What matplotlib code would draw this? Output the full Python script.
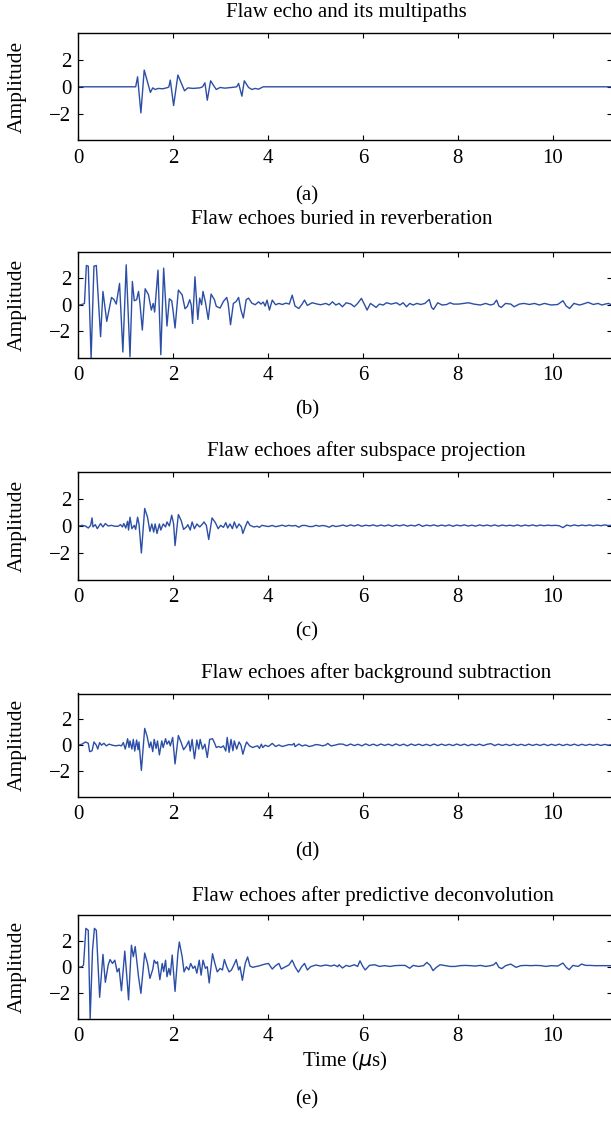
import matplotlib
matplotlib.use("Agg")
import matplotlib.pyplot as plt

plt.rcParams["font.family"] = ["Liberation Serif", "DejaVu Serif"]
plt.rcParams["font.size"] = 15

# ---- data (time in us, amplitude) ----
t_a = [0.0, 1.18, 1.21, 1.25, 1.32, 1.39, 1.52, 1.57, 1.62, 1.69, 1.78, 1.89, 1.91,
       1.94, 2.01, 2.10, 2.19, 2.24, 2.31, 2.42, 2.56, 2.62, 2.67, 2.72, 2.79, 2.87,
       2.91, 2.99, 3.09, 3.23, 3.34, 3.38, 3.45, 3.50, 3.59, 3.66, 3.73, 3.80, 3.87,
       3.90, 11.3]
a_a = [0.0, 0.0, 0.0, 0.75, -1.95, 1.25, -0.42, -0.08, -0.2, -0.12, -0.15, -0.05, 0.0,
       0.5, -1.4, 0.88, 0.12, -0.3, -0.08, -0.12, -0.08, 0.0, 0.3, -1.0, 0.45, 0.0,
       -0.2, -0.05, -0.1, -0.05, 0.0, 0.25, -0.7, 0.45, -0.05, -0.2, -0.12, -0.18, -0.05,
       0.0, 0.0]

t_b = [0.00, 0.10, 0.13, 0.17, 0.21, 0.27, 0.33, 0.38, 0.47, 0.52, 0.60, 0.70, 0.75,
       0.80, 0.87, 0.94, 1.01, 1.09, 1.14, 1.18, 1.23, 1.27, 1.30, 1.35, 1.41, 1.48,
       1.54, 1.58, 1.61, 1.68, 1.74, 1.80, 1.87, 1.92, 1.97, 2.00, 2.04, 2.11, 2.19,
       2.25, 2.30, 2.35, 2.38, 2.41, 2.46, 2.52, 2.56, 2.60, 2.63, 2.68, 2.74, 2.80,
       2.87, 2.91, 2.99, 3.06, 3.13, 3.16, 3.21, 3.27, 3.33, 3.38, 3.43, 3.48, 3.54,
       3.59, 3.66, 3.73, 3.80, 3.85, 3.90, 3.94, 3.98, 4.03, 4.09, 4.16, 4.23, 4.30,
       4.38, 4.45, 4.51, 4.57, 4.65, 4.72, 4.77, 4.83, 4.93, 5.04, 5.11, 5.22, 5.29,
       5.36, 5.43, 5.50, 5.57, 5.65, 5.75, 5.82, 5.89, 5.97, 6.04, 6.09, 6.16, 6.21,
       6.28, 6.35, 6.43, 6.50, 6.60, 6.71, 6.78, 6.85, 6.92, 6.99, 7.06, 7.14, 7.22,
       7.31, 7.40, 7.45, 7.49, 7.58, 7.67, 7.77, 7.84, 7.91, 8.02, 8.13, 8.23, 8.34,
       8.48, 8.59, 8.69, 8.76, 8.82, 8.87, 8.92, 9.01, 9.12, 9.19, 9.30, 9.40, 9.51,
       9.62, 9.72, 9.83, 9.97, 10.11, 10.22, 10.29, 10.36, 10.45, 10.57, 10.64, 10.75,
       10.86, 10.96, 11.04, 11.11, 11.18, 11.25, 11.32]
a_b = [-0.05, 0.05, 0.1, 2.95, 2.9, -4.0, 2.9, 2.95, -2.4, 1.0, -1.25, 0.55, 0.4,
       0.05, 1.6, -3.55, 3.0, -3.9, 1.75, 0.3, 0.38, 1.0, 0.1, -1.9, 1.2, 0.75,
       -0.4, 0.1, -0.55, 2.6, -3.75, 2.75, -1.6, 0.45, 0.3, -0.5, -1.75, 1.1, 0.75,
       -0.3, -0.12, 0.38, 0.0, -1.4, 2.1, -1.1, 0.5, 0.0, 1.0, 0.2, -1.1, 0.8,
       0.38, -0.12, -0.25, 0.25, 0.55, 0.1, -1.5, 0.1, 0.25, 0.55, -0.4, -1.0, 0.38,
       0.5, 0.12, 0.0, 0.22, 0.05, 0.2, -0.1, 0.35, -0.4, 0.35, 0.0, 0.1, 0.02,
       0.12, 0.05, 0.72, -0.1, -0.28, 0.05, 0.35, -0.05, 0.15, 0.05, 0.0, 0.1, -0.02,
       0.22, -0.02, 0.1, -0.15, 0.15, 0.05, -0.15, 0.1, 0.48, -0.02, -0.4, 0.1, -0.02,
       -0.2, 0.05, -0.02, 0.15, 0.05, 0.15, -0.02, 0.15, -0.15, 0.1, -0.02, 0.1, 0.02,
       0.1, 0.4, -0.2, -0.35, 0.15, -0.02, 0.02, 0.15, 0.05, 0.05, 0.1, 0.15, 0.05,
       -0.02, 0.1, -0.02, 0.05, 0.35, -0.1, -0.2, 0.1, 0.05, -0.15, 0.05, 0.1, 0.02,
       0.1, -0.02, 0.1, -0.02, 0.02, 0.3, -0.1, -0.28, 0.1, -0.02, 0.05, 0.18,
       0.02, 0.1, -0.02, 0.05, 0.1, -0.02, 0.05]

t_c = [0.00, 0.08, 0.15, 0.21, 0.26, 0.29, 0.31, 0.36, 0.40, 0.47, 0.52, 0.57, 0.63,
       0.70, 0.77, 0.84, 0.89, 0.93, 0.96, 1.00, 1.04, 1.06, 1.09, 1.13, 1.18, 1.21,
       1.25, 1.28, 1.33, 1.40, 1.46, 1.51, 1.55, 1.59, 1.62, 1.66, 1.71, 1.74, 1.79,
       1.84, 1.87, 1.92, 1.97, 2.01, 2.04, 2.11, 2.17, 2.22, 2.28, 2.31, 2.36, 2.40,
       2.45, 2.50, 2.56, 2.62, 2.65, 2.70, 2.75, 2.82, 2.89, 2.95, 3.00, 3.06, 3.11,
       3.15, 3.20, 3.25, 3.29, 3.34, 3.39, 3.44, 3.47, 3.52, 3.57, 3.62, 3.70, 3.77,
       3.82, 3.87, 3.94, 4.01, 4.09, 4.16, 4.23, 4.30, 4.37, 4.44, 4.51, 4.58, 4.65,
       4.72, 4.79, 4.87, 4.94, 5.01, 5.08, 5.15, 5.22, 5.29, 5.36, 5.43, 5.50,
       5.58, 5.66, 5.74, 5.82, 5.90, 5.98, 6.06, 6.14, 6.22, 6.30, 6.38, 6.46, 6.54,
       6.62, 6.70, 6.78, 6.86, 6.94, 7.02, 7.10, 7.18, 7.26, 7.34, 7.42, 7.50, 7.58,
       7.66, 7.74, 7.82, 7.90, 7.98, 8.06, 8.14, 8.22, 8.30, 8.38, 8.46, 8.54, 8.62,
       8.70, 8.78, 8.86, 8.94, 9.02, 9.10, 9.18, 9.26, 9.34, 9.42, 9.50, 9.58, 9.66,
       9.74, 9.82, 9.90, 9.98, 10.06, 10.14, 10.22, 10.30, 10.38, 10.46, 10.54, 10.62,
       10.70, 10.78, 10.86, 10.94, 11.02, 11.10, 11.18, 11.26, 11.32]
a_c = [-0.02, 0.05, 0.0, -0.15, 0.05, 0.6, -0.07, 0.1, -0.2, 0.18, -0.07, 0.18, 0.0,
       0.05, -0.02, -0.02, 0.1, -0.07, 0.18, -0.15, 0.35, -0.3, 0.65, -0.2, 0.05, -0.25,
       0.65, 0.15, -2.0, 1.3, 0.65, -0.4, 0.15, -0.45, 0.15, -0.55, 0.15, -0.3, 0.15,
       -0.07, 0.3, 0.0, 0.8, 0.15, -1.45, 0.85, 0.4, -0.25, -0.07, 0.1, -0.3, 0.3,
       -0.2, 0.15, -0.07, 0.15, 0.3, 0.05, -1.0, 0.6, 0.25, -0.2, 0.05, -0.1, 0.25,
       -0.15, 0.15, -0.2, 0.3, -0.15, 0.15, -0.07, -0.55, -0.07, 0.35, 0.05, -0.07, -0.02,
       -0.1, 0.05, 0.0, -0.04, 0.04, -0.05, 0.0, 0.06, -0.02, 0.05, 0.0, 0.04, -0.09,
       0.04, 0.04, -0.04, -0.04, 0.05, -0.02, 0.04, 0.0, -0.09, 0.04, -0.04, 0.0,
       0.07, -0.02, 0.08, 0.0, 0.09, -0.02, 0.06, 0.01, 0.08, -0.01, 0.07, 0.0, 0.08,
       -0.02, 0.07, 0.01, 0.09, -0.01, 0.06, 0.0, 0.12, -0.03, 0.07, 0.01, 0.08, -0.01,
       0.07, 0.0, 0.08, -0.02, 0.07, 0.01, 0.08, 0.0, 0.06, -0.01, 0.08, 0.01, 0.07,
       0.0, 0.08, -0.01, 0.07, 0.01, 0.06, 0.0, 0.08, -0.01, 0.07, 0.01, 0.08, 0.0,
       0.07, 0.02, 0.06, 0.03, 0.05, 0.02, -0.12, 0.07, 0.0, 0.08, 0.01, 0.07,
       0.02, 0.08, 0.01, 0.07, 0.02, 0.08, 0.03, 0.06, 0.05]

t_d = [0.00, 0.08, 0.15, 0.21, 0.24, 0.29, 0.33, 0.38, 0.41, 0.45, 0.49, 0.54, 0.59,
       0.65, 0.72, 0.79, 0.86, 0.91, 0.95, 0.99, 1.04, 1.07, 1.09, 1.13, 1.16, 1.19,
       1.23, 1.26, 1.28, 1.33, 1.40, 1.45, 1.50, 1.53, 1.57, 1.60, 1.64, 1.67, 1.71,
       1.76, 1.79, 1.84, 1.87, 1.91, 1.94, 1.99, 2.04, 2.11, 2.17, 2.22, 2.28, 2.33,
       2.36, 2.40, 2.45, 2.50, 2.54, 2.57, 2.62, 2.67, 2.72, 2.77, 2.83, 2.87, 2.91,
       2.96, 3.01, 3.06, 3.11, 3.14, 3.18, 3.22, 3.26, 3.29, 3.34, 3.39, 3.43, 3.47,
       3.52, 3.55, 3.61, 3.68, 3.73, 3.78, 3.82, 3.86, 3.89, 3.94, 4.01, 4.09, 4.16,
       4.23, 4.30, 4.37, 4.44, 4.51, 4.55, 4.57, 4.65, 4.72, 4.79, 4.87, 4.94, 5.01,
       5.08, 5.15, 5.22, 5.26, 5.33, 5.43, 5.50,
       5.58, 5.66, 5.74, 5.82, 5.90, 5.98, 6.06, 6.14, 6.22, 6.30, 6.38, 6.46, 6.54,
       6.62, 6.70, 6.78, 6.86, 6.94, 7.02, 7.10, 7.18, 7.26, 7.34, 7.42, 7.50, 7.58,
       7.66, 7.74, 7.82, 7.90, 7.98, 8.06, 8.14, 8.22, 8.30, 8.38, 8.46, 8.54, 8.62,
       8.70, 8.78, 8.86, 8.94, 9.02, 9.10, 9.18, 9.26, 9.34, 9.42, 9.50, 9.58, 9.66,
       9.74, 9.82, 9.90, 9.98, 10.06, 10.14, 10.22, 10.30, 10.38, 10.46, 10.54, 10.62,
       10.70, 10.78, 10.86, 10.94, 11.02, 11.10, 11.18, 11.26, 11.32]
a_d = [0.0, 0.08, 0.25, 0.15, -0.5, -0.43, 0.25, 0.0, -0.3, 0.2, 0.0, 0.15, -0.05,
       0.08, 0.0, -0.05, 0.0, -0.05, 0.2, -0.3, 0.5, -0.18, 0.33, -0.3, 0.45, -0.45,
       0.4, -0.35, 0.25, -1.95, 1.3, 0.7, -0.18, 0.25, -0.5, 0.45, -0.25, 0.33, -0.75,
       0.33, -0.18, 0.5, 0.08, 0.33, -0.05, 0.6, -1.45, 0.75, 0.2, -0.35, -0.05, 0.33,
       -0.45, 0.45, -1.05, 0.4, -0.3, 0.45, -0.3, 0.08, -0.95, 0.45, 0.5, 0.2, -0.18,
       -0.1, -0.18, -0.05, -0.45, 0.6, -0.55, 0.45, -0.43, 0.33, -0.3, 0.25, 0.0, -0.7,
       -0.05, 0.25, -0.05, -0.18, -0.1, -0.05, -0.25, 0.08, -0.18, 0.0, -0.1, 0.14, -0.1,
       0.02, -0.1, -0.03, 0.05, 0.02, 0.14, -0.11, 0.09, -0.06, 0.02, -0.1, -0.04, 0.05,
       0.02, -0.05, 0.02, 0.14, -0.06, 0.02, 0.09,
       0.08, -0.04, 0.09, -0.03, 0.07, -0.05, 0.1, -0.03, 0.08, -0.04, 0.09, -0.02, 0.08,
       -0.04, 0.1, -0.03, 0.08, -0.05, 0.09, -0.02, 0.08, -0.03, 0.07, -0.04, 0.09, -0.03,
       0.08, -0.02, 0.07, -0.03, 0.09, -0.02, 0.08, -0.04, 0.07, -0.02, 0.08, -0.03, 0.07,
       0.12, -0.03, 0.08, -0.02, 0.07, -0.03, 0.08, -0.02, 0.07, -0.03, 0.08, -0.02, 0.07,
       -0.02, 0.08, -0.03, 0.07, -0.02, 0.08, -0.03, 0.07, -0.02, 0.08, -0.03, 0.07,
       -0.02, 0.07, -0.01, 0.07, -0.02, 0.06, 0.0, 0.06, 0.04]

t_e = [0.00, 0.08, 0.11, 0.16, 0.21, 0.25, 0.30, 0.34, 0.38, 0.45, 0.52, 0.57, 0.63,
       0.67, 0.72, 0.77, 0.82, 0.86, 0.91, 0.98, 1.01, 1.06, 1.12, 1.16, 1.20, 1.27,
       1.32, 1.40, 1.46, 1.51, 1.57, 1.60, 1.64, 1.67, 1.72, 1.77, 1.80, 1.84, 1.87,
       1.91, 1.94, 1.98, 2.04, 2.10, 2.13, 2.19, 2.23, 2.28, 2.33, 2.37, 2.42, 2.46,
       2.50, 2.55, 2.59, 2.63, 2.68, 2.72, 2.76, 2.83, 2.88, 2.93, 2.99, 3.04, 3.08,
       3.13, 3.18, 3.23, 3.28, 3.33, 3.38, 3.41, 3.46, 3.52, 3.57, 3.62, 3.68, 3.73,
       3.80, 3.87, 3.94, 4.01, 4.09, 4.16, 4.23, 4.28, 4.37, 4.44, 4.51, 4.57, 4.64,
       4.71, 4.77, 4.83, 4.90, 5.01, 5.11, 5.22, 5.33, 5.40, 5.47, 5.50, 5.57, 5.65,
       5.72, 5.82, 5.89, 5.94, 6.00, 6.05, 6.14, 6.25, 6.35, 6.46, 6.57, 6.67, 6.78,
       6.89, 6.99, 7.06, 7.17, 7.28, 7.35, 7.42, 7.48, 7.55, 7.63, 7.74, 7.84, 7.95,
       8.05, 8.16, 8.27, 8.37, 8.48, 8.59, 8.69, 8.76, 8.81, 8.87, 8.93, 9.01, 9.12,
       9.23, 9.33, 9.44, 9.54, 9.65, 9.76, 9.86, 9.97, 10.11, 10.22, 10.29, 10.35,
       10.43, 10.54, 10.61, 10.70, 10.79, 10.89, 11.00, 11.11, 11.21, 11.32]
a_e = [-0.05, 0.0, 0.13, 2.95, 2.8, -4.0, 1.28, 2.95, 2.8, -2.35, 0.95, -1.2, 0.13,
       0.55, 0.25, 0.5, -0.4, -0.13, -1.85, 1.2, -0.13, -2.55, 1.65, 0.77, 1.55, -0.77,
       -2.05, 1.05, 0.25, -0.9, -0.2, 0.5, 0.25, 0.38, -1.0, 0.25, -0.38, 0.5, -0.77,
       -0.13, -0.64, 0.9, -1.9, 1.02, 1.9, 0.77, -0.4, 0.0, -0.25, 0.25, -0.13, 0.05,
       -0.5, 0.5, -0.65, 0.5, -0.13, 0.0, -1.25, 1.0, 0.25, -0.4, -0.13, -0.25, 0.55,
       0.0, -0.4, -0.25, 0.13, 0.55, -0.25, 0.0, -1.05, 0.25, 0.75, 0.05, -0.05, 0.0,
       0.05, 0.13, 0.2, 0.25, -0.18, 0.08, 0.25, -0.18, 0.0, 0.13, 0.5, 0.0, -0.42,
       0.0, 0.25, -0.25, 0.0, 0.13, 0.05, 0.13, 0.05, 0.13, 0.0, 0.15, -0.1, 0.1,
       0.02, 0.15, 0.02, 0.45, 0.02, -0.25, 0.1, 0.15, 0.02, 0.08, 0.02, 0.08, 0.1,
       0.1, -0.12, 0.1, 0.02, 0.08, 0.33, 0.1, -0.3, -0.05, 0.15, 0.08, 0.02, 0.02,
       0.08, 0.1, 0.08, 0.05, 0.1, 0.02, 0.08, 0.15, 0.33, -0.05, -0.15, 0.08, 0.2,
       -0.05, 0.08, 0.1, 0.08, 0.1, 0.08, 0.02, 0.08, 0.05, 0.28, -0.05, -0.23,
       0.1, 0.02, 0.2, 0.1, 0.1, 0.08, 0.08, 0.08, 0.08, 0.05]

titles = ["Flaw echo and its multipaths",
          "Flaw echoes buried in reverberation",
          "Flaw echoes after subspace projection",
          "Flaw echoes after background subtraction",
          "Flaw echoes after predictive deconvolution"]
panel_tags = ["(a)", "(b)", "(c)", "(d)", "(e)"]
series = [(t_a, a_a), (t_b, a_b), (t_c, a_c), (t_d, a_d), (t_e, a_e)]

# layout in pixels (top of axes, height, title centre x/y, tag y)
W, H = 611, 1122
ax_tops = [33.3, 251.5, 472.0, 693.5, 914.7]
ax_hgts = [107.0, 106.5, 108.0, 103.4, 104.0]
title_xy = [(346, 12), (342, 219), (366, 451), (376, 673), (373, 896)]
tag_y = [196, 410, 632, 852, 1100]
left_px, width_px = 78.3, 533.5

line_col = "#2b4ea6"

fig = plt.figure(figsize=(W / 100, H / 100), dpi=100)

for i, (t, a) in enumerate(series):
    ax = fig.add_axes([left_px / W, 1 - (ax_tops[i] + ax_hgts[i]) / H,
                       width_px / W, ax_hgts[i] / H])
    ax.plot(t, a, color=line_col, linewidth=1.0, solid_joinstyle="round")
    ax.set_xlim(0, 11.25)
    ax.set_ylim(-4, 4)
    ax.set_xticks([0, 2, 4, 6, 8, 10])
    ax.set_yticks([-2, 0, 2])
    ax.tick_params(direction="in", top=True, right=True, length=3.5, width=0.8)
    ax.tick_params(axis="x", pad=6)
    ax.tick_params(axis="y", pad=5)
    for sp in ax.spines.values():
        sp.set_linewidth(1.0)
    ax.set_ylabel("Amplitude", fontsize=15.5)
    ax.yaxis.set_label_coords(-0.097, 0.5)
    if i == 4:
        ax.set_xlabel(r"Time ($\mu$s)", labelpad=3)
    tx, ty = title_xy[i]
    fig.text(tx / W, 1 - ty / H, titles[i], ha="center", va="center")
    fig.text(307 / W, 1 - tag_y[i] / H, panel_tags[i], ha="center", va="center")

fig.savefig("out.png", dpi=100)
